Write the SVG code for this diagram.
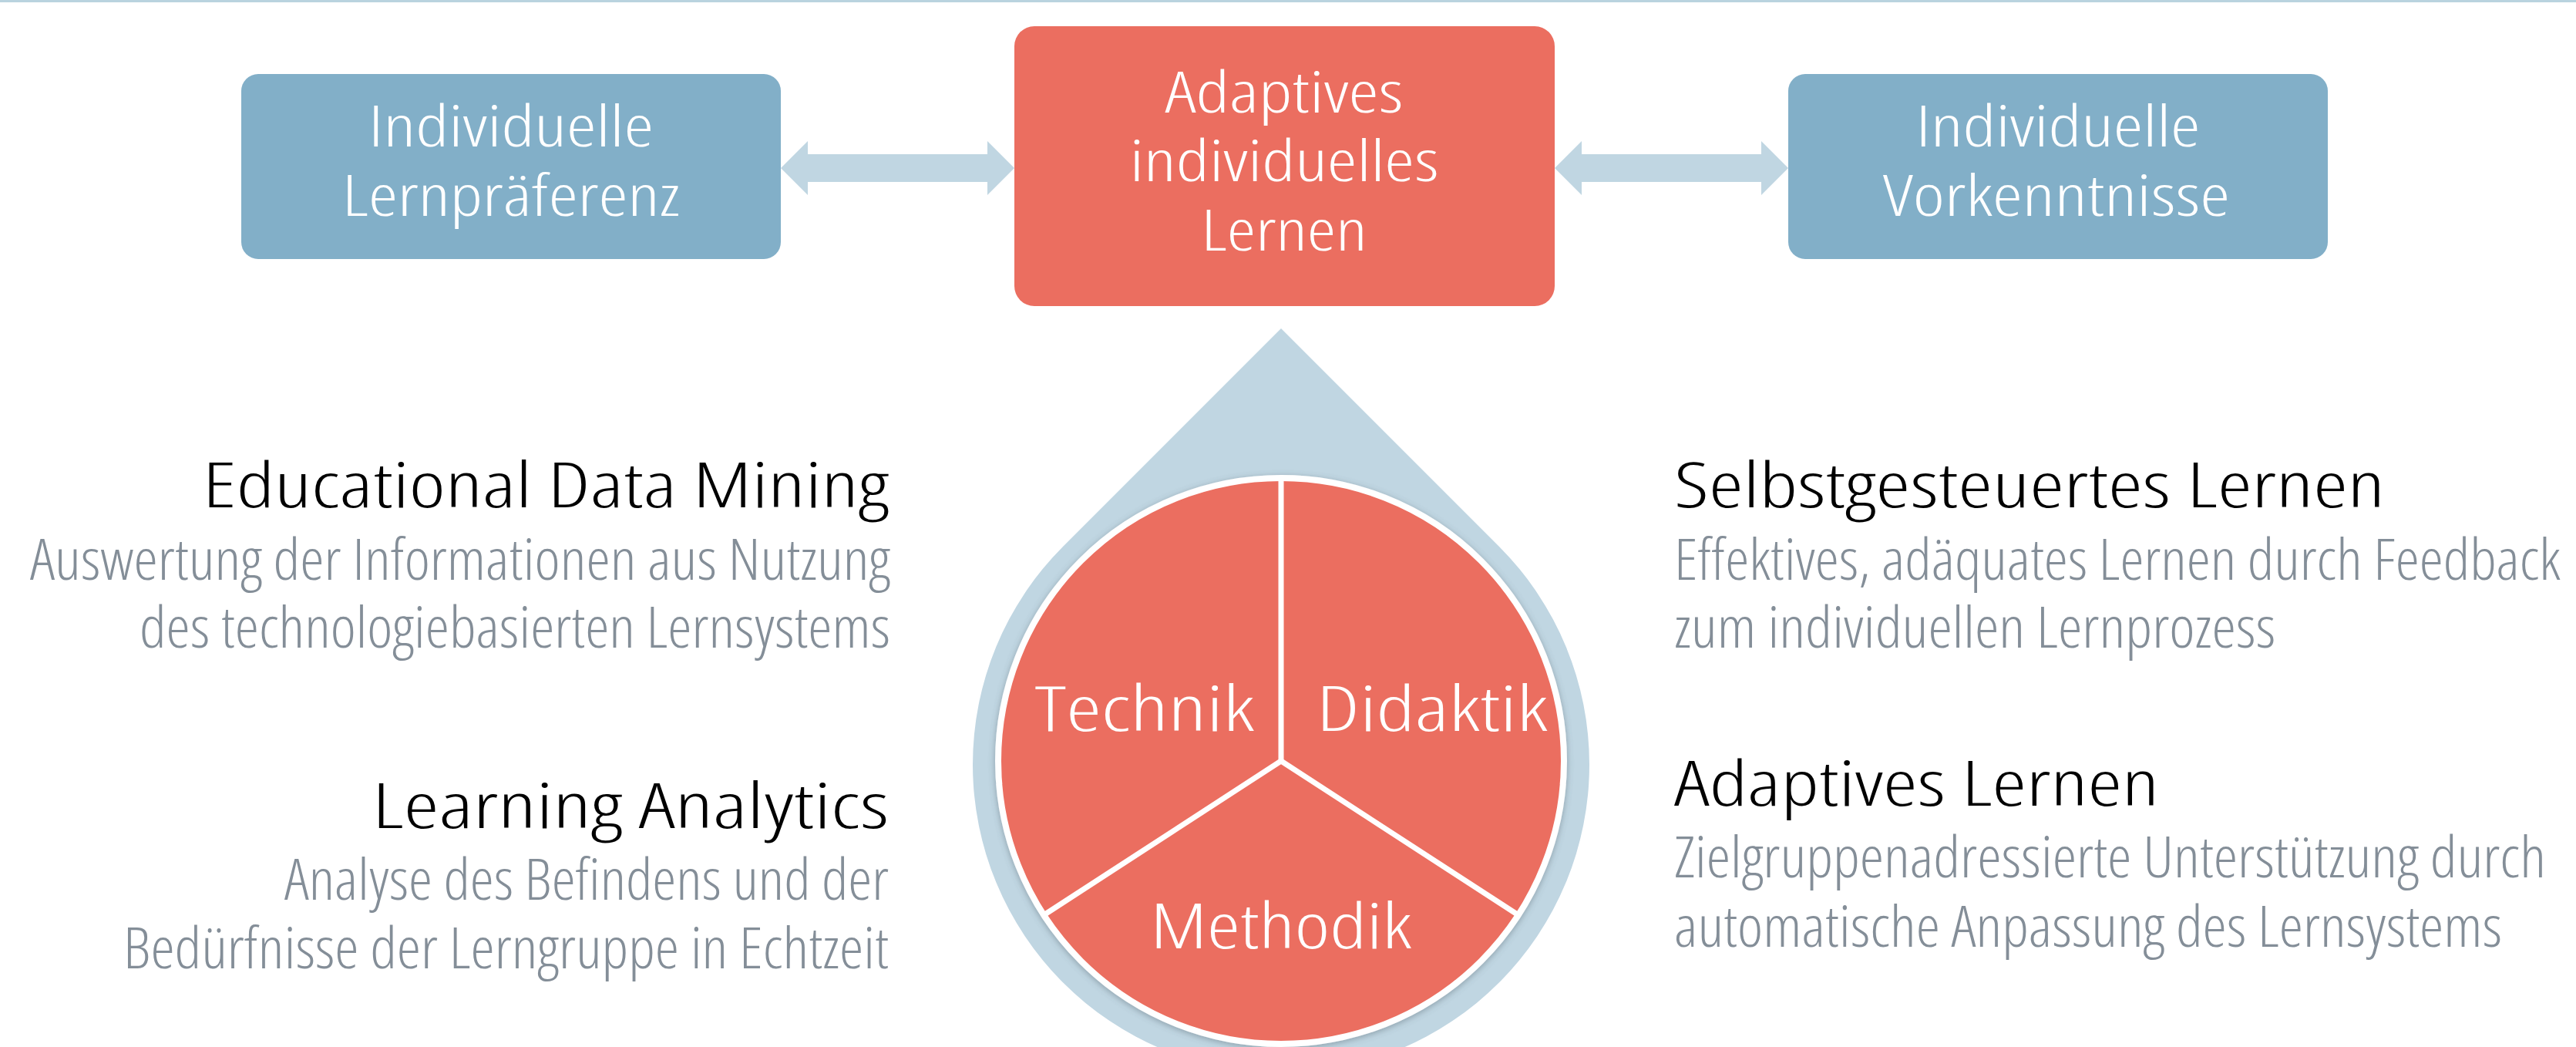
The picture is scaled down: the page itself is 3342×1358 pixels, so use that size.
<svg xmlns="http://www.w3.org/2000/svg" width="3342" height="1358" viewBox="0 0 3342 1358">
  <style>
    text { font-family: "Open Sans", "Liberation Sans", sans-serif; font-stretch: condensed; font-weight: 300; }
    .box-blue { fill: #82AFC8; }
    .box-red { fill: #EB6E60; }
    .arrow { fill: #C0D6E2; }
    .box-label { fill: #FFFFFF; font-size: 73px; text-anchor: middle; }
    .pie-label { fill: #FFFFFF; font-size: 81px; text-anchor: middle; }
    .head { fill: #000000; font-size: 82px; }
    .desc { fill: #848E98; font-size: 73px; }
    .end { text-anchor: end; }
    .start { text-anchor: start; }
  </style>
  <defs>
    <filter id="ringShadow" x="-10%" y="-10%" width="120%" height="120%">
      <feDropShadow dx="0" dy="2" stdDeviation="4" flood-color="#4a5a66" flood-opacity="0.45"/>
    </filter>
  </defs>

  <!-- top rule -->
  <rect x="0" y="0" width="3342" height="3" fill="#B9D3DF"/>

  <!-- connectors: double-headed block arrows -->
  <g id="connectors">
    <path class="arrow" d="M1013 218 L1048 183 L1048 200 L1281 200 L1281 183 L1316 218 L1281 253 L1281 236 L1048 236 L1048 253 Z"/>
    <path class="arrow" d="M2017 218 L2052 183 L2052 200 L2285 200 L2285 183 L2320 218 L2285 253 L2285 236 L2052 236 L2052 253 Z"/>
  </g>

  <!-- left box -->
  <g id="node-lernpraeferenz">
    <rect class="box-blue" x="313" y="96" width="700" height="240" rx="22" ry="22"/>
    <text class="box-label" x="663" y="190" textLength="370" lengthAdjust="spacingAndGlyphs">Individuelle</text>
    <text class="box-label" x="663" y="280" textLength="438" lengthAdjust="spacingAndGlyphs">Lernpräferenz</text>
  </g>

  <!-- centre box -->
  <g id="node-adaptives-lernen">
    <rect class="box-red" x="1316" y="34" width="701" height="363" rx="26" ry="26"/>
    <text class="box-label" x="1666" y="146" textLength="309" lengthAdjust="spacingAndGlyphs">Adaptives</text>
    <text class="box-label" x="1666" y="235" textLength="401" lengthAdjust="spacingAndGlyphs">individuelles</text>
    <text class="box-label" x="1666" y="325" textLength="215" lengthAdjust="spacingAndGlyphs">Lernen</text>
  </g>

  <!-- right box -->
  <g id="node-vorkenntnisse">
    <rect class="box-blue" x="2320" y="96" width="700" height="240" rx="22" ry="22"/>
    <text class="box-label" x="2670" y="190" textLength="369" lengthAdjust="spacingAndGlyphs">Individuelle</text>
    <text class="box-label" x="2668" y="280" textLength="450" lengthAdjust="spacingAndGlyphs">Vorkenntnisse</text>
  </g>

  <!-- teardrop with three-part pie -->
  <g id="node-pie">
    <path class="arrow" d="M1662 426 L1379 709 A400 400 0 1 0 1945 709 Z"/>
    <circle cx="1662" cy="987" r="367" fill="#EB6E60" stroke="#FFFFFF" stroke-width="8" filter="url(#ringShadow)"/>
    <g stroke="#FFFFFF" stroke-width="7" stroke-linecap="butt">
      <line x1="1662" y1="987" x2="1662" y2="620"/>
      <line x1="1662" y1="987" x2="1354" y2="1187"/>
      <line x1="1662" y1="987" x2="1970" y2="1187"/>
    </g>
    <text class="pie-label" x="1485" y="948" textLength="285" lengthAdjust="spacingAndGlyphs">Technik</text>
    <text class="pie-label" x="1858" y="948" textLength="300" lengthAdjust="spacingAndGlyphs">Didaktik</text>
    <text class="pie-label" x="1662" y="1230" textLength="339" lengthAdjust="spacingAndGlyphs">Methodik</text>
  </g>

  <!-- left descriptions -->
  <g id="node-edm">
    <text class="head end" x="1153" y="658" textLength="890" lengthAdjust="spacingAndGlyphs">Educational Data Mining</text>
    <text class="desc end" x="1155" y="752" textLength="1116" lengthAdjust="spacingAndGlyphs">Auswertung der Informationen aus Nutzung</text>
    <text class="desc end" x="1155" y="840" textLength="974" lengthAdjust="spacingAndGlyphs">des technologiebasierten Lernsystems</text>
  </g>
  <g id="node-learning-analytics">
    <text class="head end" x="1153" y="1074" textLength="670" lengthAdjust="spacingAndGlyphs">Learning Analytics</text>
    <text class="desc end" x="1153" y="1167" textLength="784" lengthAdjust="spacingAndGlyphs">Analyse des Befindens und der</text>
    <text class="desc end" x="1153" y="1256" textLength="993" lengthAdjust="spacingAndGlyphs">Bedürfnisse der Lerngruppe in Echtzeit</text>
  </g>

  <!-- right descriptions -->
  <g id="node-selbstgesteuert">
    <text class="head start" x="2172" y="658" textLength="922" lengthAdjust="spacingAndGlyphs">Selbstgesteuertes Lernen</text>
    <text class="desc start" x="2172" y="752" textLength="1150" lengthAdjust="spacingAndGlyphs">Effektives, adäquates Lernen durch Feedback</text>
    <text class="desc start" x="2172" y="840" textLength="780" lengthAdjust="spacingAndGlyphs">zum individuellen Lernprozess</text>
  </g>
  <g id="node-adaptiv">
    <text class="head start" x="2172" y="1045" textLength="629" lengthAdjust="spacingAndGlyphs">Adaptives Lernen</text>
    <text class="desc start" x="2172" y="1138" textLength="1131" lengthAdjust="spacingAndGlyphs">Zielgruppenadressierte Unterstützung durch</text>
    <text class="desc start" x="2172" y="1228" textLength="1074" lengthAdjust="spacingAndGlyphs">automatische Anpassung des Lernsystems</text>
  </g>
</svg>
